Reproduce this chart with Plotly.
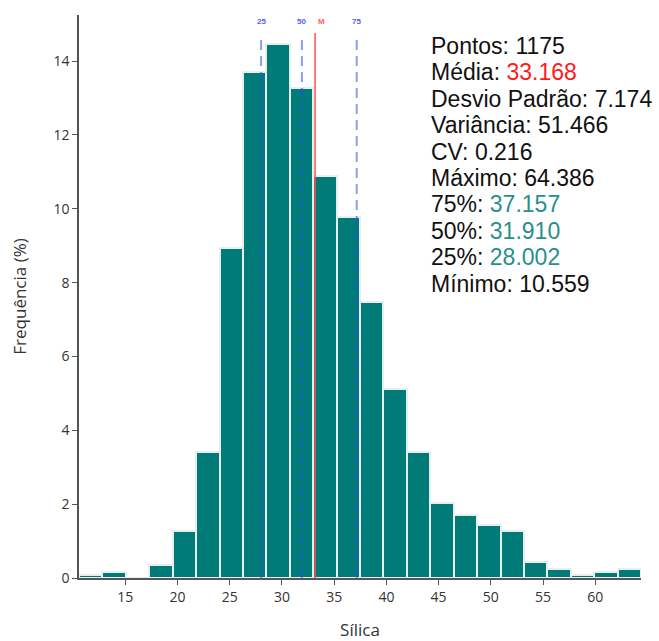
import plotly.graph_objects as go

# ---- data ----
counts = [1, 2, 0, 4, 15, 40, 105, 161, 170, 156, 128, 115, 88, 60, 40, 24, 20, 17, 15, 5, 3, 1, 2, 3]
n_points = 1175
x_min = 10.559
x_max = 64.386
mean = 33.168
std = 7.174
variance = 51.466
cv = 0.216
q25 = 28.002
q50 = 31.910
q75 = 37.157
x_ticks = [15, 20, 25, 30, 35, 40, 45, 50, 55, 60]
y_ticks = [0, 2, 4, 6, 8, 10, 12, 14]

n_bins = len(counts)
bw = (x_max - x_min) / n_bins
centers = [x_min + bw * (i + 0.5) for i in range(n_bins)]
freq = [c / n_points * 100 for c in counts]

TEAL = "#007b77"
fig = go.Figure()
fig.add_trace(go.Bar(
    x=centers, y=freq, width=[bw] * n_bins,
    marker=dict(color=TEAL, line=dict(color="#e6eeee", width=2)),
    hoverinfo="x+y", showlegend=False,
))

blue = "rgba(40,80,235,0.55)"
shapes = []
annotations = []
for val, lab in [(q25, "25"), (q50, "50"), (q75, "75")]:
    shapes.append(dict(type="line", xref="x", yref="paper", x0=val, x1=val, y0=0, y1=0.959,
                       line=dict(color=blue, width=2, dash="10px,6px")))
    annotations.append(dict(x=val, y=(578 - 21) / 563, xref="x", yref="paper", text="<b>" + lab + "</b>",
                            showarrow=False, yanchor="middle",
                            font=dict(family="Liberation Sans", size=8, color="#5a5aff")))
shapes.append(dict(type="line", xref="x", yref="paper", x0=mean, x1=mean, y0=0, y1=0.968,
                   line=dict(color="#ff5050", width=1.5)))
annotations.append(dict(x=mean + 0.05, y=(578 - 21) / 563, xref="x", yref="paper", text="<b>M</b>",
                        showarrow=False, xanchor="left", yanchor="middle",
                        font=dict(family="Liberation Sans", size=8, color="#ff6060")))

red = "#ff1a1a"
tealtxt = "#2a8f8c"
lines = [
    f"Pontos: {n_points}",
    f"Média: <span style='color:{red}'>{mean:.3f}</span>",
    f"Desvio Padrão: {std:.3f}",
    f"Variância: {variance:.3f}",
    f"CV: {cv:.3f}",
    f"Máximo: {x_max:.3f}",
    f"75%: <span style='color:{tealtxt}'>{q75:.3f}</span>",
    f"50%: <span style='color:{tealtxt}'>{q50:.3f}</span>",
    f"25%: <span style='color:{tealtxt}'>{q25:.3f}</span>",
    f"Mínimo: {x_min:.3f}",
]
for i, t in enumerate(lines):
    annotations.append(dict(xref="paper", yref="paper", x=(429 - 79) / 562, y=(578 - 46 - i * 26.4) / 563,
                            xanchor="left", yanchor="middle", text=t, showarrow=False,
                            font=dict(family="Liberation Sans", size=23, color="#111")))

axis_font = dict(family="Open Sans", size=14, color="#333")
fig.update_layout(
    width=659, height=641,
    margin=dict(l=79, r=18, t=15, b=63),
    paper_bgcolor="white", plot_bgcolor="white",
    bargap=0,
    shapes=shapes, annotations=annotations,
    xaxis=dict(range=[x_min, x_max], tickvals=x_ticks, showline=True, linecolor="#555", linewidth=1.5,
               ticks="outside", ticklen=5, tickcolor="#555", showgrid=False, zeroline=False,
               tickfont=axis_font, automargin=False,
               title=dict(text="Sílica", font=dict(family="Open Sans", size=17, color="#333"), standoff=20)),
    yaxis=dict(range=[0, 15.25], tickvals=y_ticks, showline=True, linecolor="#555", linewidth=1.5,
               ticks="outside", ticklen=5, tickcolor="#555", showgrid=False, zeroline=False,
               tickfont=axis_font, automargin=False,
               title=dict(text="Frequência (%)", font=dict(family="Open Sans", size=17, color="#333"), standoff=22)),
    font=dict(family="Open Sans"),
)

fig.write_html("out.html")
